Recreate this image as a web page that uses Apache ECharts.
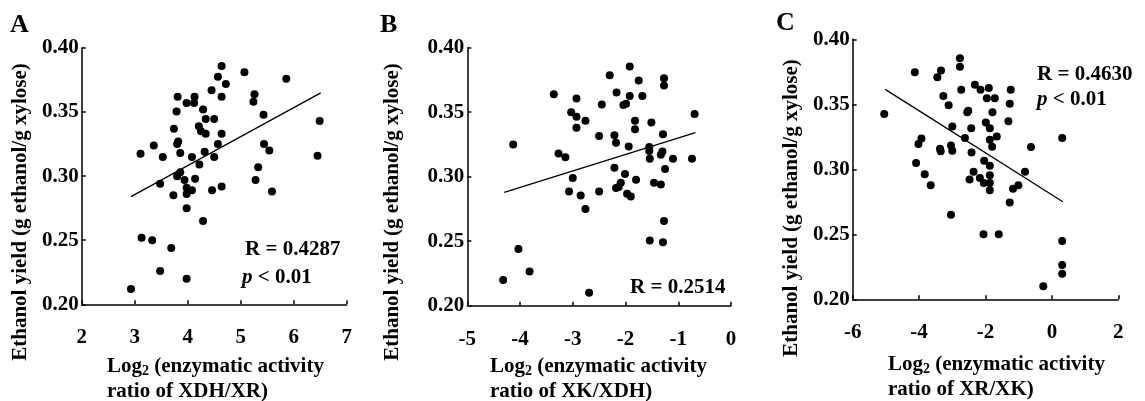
<!DOCTYPE html>
<html><head><meta charset="utf-8">
<script src="https://cdn.jsdelivr.net/npm/echarts@6/dist/echarts.min.js"></script>
<style>html,body{margin:0;padding:0;background:#fff}#c{width:1145px;height:401px}</style>
</head><body><div id="c"></div>
<script>
// Panel A: log2(XDH/XR) vs ethanol yield
const pointsA = [
 [2.93,0.212],[3.11,0.3175],[3.13,0.252],[3.33,0.250],[3.36,0.324],[3.53,0.315],[3.48,0.294],[3.48,0.226],
 [3.69,0.244],[3.73,0.285],[3.74,0.337],[3.79,0.3505],[3.81,0.362],[3.80,0.325],[3.82,0.327],[3.86,0.318],
 [3.80,0.300],[3.86,0.303],[3.94,0.297],[3.98,0.357],[3.98,0.291],[3.98,0.286],[3.98,0.275],[3.98,0.220],
 [4.08,0.315],[4.08,0.289],[4.13,0.362],[4.12,0.357],[4.14,0.298],[4.21,0.339],[4.22,0.309],[4.25,0.335],
 [4.29,0.352],[4.29,0.265],[4.32,0.319],[4.34,0.3445],[4.34,0.333],[4.45,0.367],[4.46,0.289],[4.50,0.3445],
 [4.50,0.315],[4.57,0.3775],[4.57,0.325],[4.64,0.386],[4.64,0.362],[4.64,0.333],[4.64,0.292],[4.72,0.372],
 [5.07,0.381],[5.24,0.358],[5.26,0.364],[5.43,0.348],[5.44,0.325],[5.54,0.320],[5.33,0.307],[5.28,0.297],
 [5.59,0.288],[5.86,0.376],[6.49,0.343],[6.45,0.316]
];
const trendA = [[2.93,0.284],[6.51,0.365]];
// Panel B: log2(XK/XDH)
const pointsB = [
 [-4.32,0.220],[-4.13,0.325],[-4.03,0.244],[-3.82,0.2265],[-3.36,0.364],[-3.27,0.318],[-3.14,0.315],[-3.03,0.350],
 [-2.93,0.3607],[-2.93,0.3464],[-2.93,0.338],[-3.00,0.299],[-3.07,0.2885],[-2.85,0.2855],[-2.76,0.3434],[-2.76,0.275],
 [-2.69,0.210],[-2.50,0.3316],[-2.50,0.2885],[-2.45,0.3559],[-2.30,0.3786],[-2.21,0.3321],[-2.18,0.3263],[-2.21,0.307],
 [-2.17,0.3653],[-2.18,0.2913],[-2.13,0.292],[-2.09,0.2954],[-2.04,0.3556],[-1.99,0.3566],[-2.01,0.302],[-1.94,0.3235],
 [-1.92,0.3855],[-1.92,0.3625],[-1.97,0.2867],[-1.90,0.2847],[-1.82,0.3434],[-1.82,0.3367],[-1.80,0.2977],[-1.75,0.3745],
 [-1.68,0.3625],[-1.55,0.320],[-1.55,0.323],[-1.54,0.314],[-1.54,0.2505],[-1.51,0.342],[-1.46,0.2954],[-1.33,0.294],
 [-1.33,0.317],[-1.30,0.3196],[-1.29,0.333],[-1.27,0.3763],[-1.27,0.3707],[-1.27,0.2656],[-1.29,0.2492],[-1.25,0.306],
 [-1.10,0.314],[-0.74,0.314],[-0.69,0.3487]
];
const trendB = [[-4.30,0.2878],[-0.675,0.3342]];
// Panel C: log2(XR/XK)
const pointsC = [
 [-5.05,0.3426],[-4.13,0.3747],[-4.09,0.3048],[-4.02,0.3194],[-3.93,0.3237],[-3.83,0.2962],[-3.65,0.2878],[-3.45,0.3709],
 [-3.34,0.376],[-3.37,0.3158],[-3.35,0.3138],[-3.27,0.3564],[-3.11,0.3492],[-3.00,0.333],[-3.04,0.3184],[-3.00,0.3143],
 [-3.04,0.265],[-2.77,0.3855],[-2.77,0.3788],[-2.73,0.3612],[-2.62,0.324],[-2.55,0.3439],[-2.52,0.345],[-2.43,0.3316],
 [-2.42,0.313],[-2.48,0.2921],[-2.36,0.2982],[-2.32,0.365],[-2.17,0.2934],[-2.15,0.3612],[-1.99,0.336],[-1.96,0.3546],
 [-2.06,0.250],[-2.04,0.3066],[-2.05,0.2895],[-1.90,0.3625],[-1.87,0.3316],[-1.87,0.3227],[-1.87,0.3028],[-1.87,0.2954],
 [-1.87,0.2895],[-1.87,0.2839],[-1.80,0.3173],[-1.72,0.3546],[-1.79,0.3439],[-1.66,0.3253],[-1.60,0.250],[-1.31,0.337],
 [-1.27,0.3505],[-1.24,0.3612],[-1.27,0.2745],[-1.17,0.285],[-1.01,0.2878],[-0.81,0.2982],[-0.63,0.3171],[-0.26,0.210],
 [0.31,0.324],[0.31,0.2449],[0.31,0.2263],[0.31,0.2196]
];
const trendC = [[-5.02,0.3615],[0.33,0.275]];

const xRanges = [[2,7,1],[-5,0,1],[-6,2,2]];
const yRange = [0.20,0.40,0.05];
const xNames = ['ratio of XDH/XR)','ratio of XK/XDH)','ratio of XR/XK)'];
const yName = 'Ethanol yield (g ethanol/g xylose)';
const panelLetters = ['A','B','C'];
const stats = [['R = 0.4287','< 0.01'],['R = 0.2514',null],['R = 0.4630','< 0.01']];

const FONT = 'Liberation Serif';
const grids = [
 {left:81.7, top:48, width:265, height:256.3},
 {left:467.3, top:47.7, width:263.7, height:258},
 {left:852.7, top:39.3, width:265.6, height:260}
];
const allPoints = [pointsA,pointsB,pointsC];
const trends = [trendA,trendB,trendC];

const xAxis = [], yAxis = [], series = [];
for (let i=0;i<3;i++){
  xAxis.push({type:'value', gridIndex:i, min:xRanges[i][0], max:xRanges[i][1], interval:xRanges[i][2],
    axisLine:{show:true, onZero:false, lineStyle:{color:'#000', width:1.5}},
    axisTick:{show:true, inside:true, length:4, lineStyle:{color:'#000', width:1.5}},
    splitLine:{show:false},
    axisLabel:{color:'#000', fontFamily:FONT, fontWeight:'bold', fontSize:21, margin:23}});
  yAxis.push({type:'value', gridIndex:i, min:yRange[0], max:yRange[1], interval:yRange[2],
    axisLine:{show:true, onZero:false, lineStyle:{color:'#000', width:1.5}},
    axisTick:{show:true, inside:true, length:4, lineStyle:{color:'#000', width:1.5}},
    splitLine:{show:false},
    axisLabel:{color:'#000', fontFamily:FONT, fontWeight:'bold', fontSize:21, margin:3,
      formatter:v=>v.toFixed(2)}});
  series.push({type:'scatter', xAxisIndex:i, yAxisIndex:i, data:allPoints[i], symbolSize:8,
    itemStyle:{color:'#000', opacity:1}, silent:true, animation:false});
  series.push({type:'line', xAxisIndex:i, yAxisIndex:i, data:trends[i], showSymbol:false,
    lineStyle:{color:'#000', width:1.3}, silent:true, animation:false});
}

const graphic = [];
const yNamePos = [[21,212],[393,212],[792,208]];
const xNamePos = [[107,354],[490,354],[888,352]];
const letterPos = [[10,25],[380,25],[776,23]];
const statPos = [[[245,250],[242,278]],[[630,288],null],[[1037,75],[1037,100]]];
const baseStyle = {fill:'#000', fontFamily:FONT, fontWeight:'bold', fontSize:21};
for (let i=0;i<3;i++){
  graphic.push({type:'text', x:yNamePos[i][0], y:yNamePos[i][1], rotation:Math.PI/2,
    style:Object.assign({}, baseStyle, {text:yName, align:'center', verticalAlign:'middle'})});
  graphic.push({type:'text', x:xNamePos[i][0], y:xNamePos[i][1],
    style:Object.assign({}, baseStyle, {
      text:'{a|Log}{s|2}{a| (enzymatic activity}\n{a|' + xNames[i] + '}',
      align:'left', verticalAlign:'top', lineHeight:25,
      rich:{a:{fontFamily:FONT, fontWeight:'bold', fontSize:21, lineHeight:25, fill:'#000'},
            s:{fontFamily:FONT, fontWeight:'bold', fontSize:14, lineHeight:25, padding:[10,0,0,0], fill:'#000'}}})});
  graphic.push({type:'text', x:letterPos[i][0], y:letterPos[i][1],
    style:Object.assign({}, baseStyle, {text:panelLetters[i], fontSize:26, align:'left', verticalAlign:'middle'})});
  graphic.push({type:'text', x:statPos[i][0][0], y:statPos[i][0][1],
    style:Object.assign({}, baseStyle, {text:stats[i][0], fontSize:21, align:'left', verticalAlign:'middle'})});
  if (stats[i][1]){
    graphic.push({type:'text', x:statPos[i][1][0], y:statPos[i][1][1],
      style:Object.assign({}, baseStyle, {
        text:'{p|p}{a| ' + stats[i][1] + '}', fontSize:21, align:'left', verticalAlign:'middle',
        rich:{p:{fontFamily:FONT, fontWeight:'bold', fontStyle:'italic', fontSize:21, fill:'#000'},
              a:{fontFamily:FONT, fontWeight:'bold', fontSize:21, fill:'#000'}}})});
  }
}

const chart = echarts.init(document.getElementById('c'), null, {renderer:'canvas'});
chart.setOption({animation:false, backgroundColor:'#fff', grid:grids, xAxis, yAxis, series, graphic});
</script>
</body></html>
